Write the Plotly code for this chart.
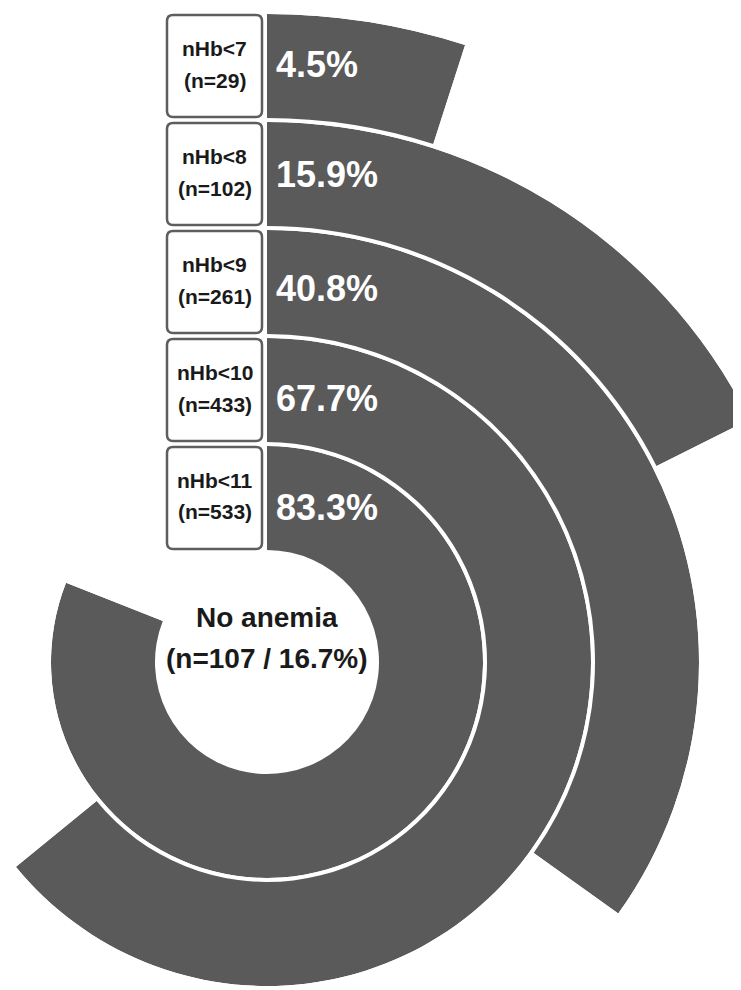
import math
import plotly.graph_objects as go

# ---- data ----
labels = ["nHb<7", "nHb<8", "nHb<9", "nHb<10", "nHb<11"]
counts = [29, 102, 261, 433, 533]
pct = [4.5, 15.9, 40.8, 67.7, 83.3]
# angular extent of each arc as drawn in the reference (degrees clockwise from 12 o'clock)
arc_deg = [17.8, 63.3, 125.6, 230.8, 291.5]
center_title = "No anemia"
center_n = 107
center_pct = 16.7

# ---- layout / style ----
W, H = 750, 990
CX, CY = 259, 654          # page body adds an 8px offset
HOLE_R = 112
RING_W = 104
GAP = 4
RING_COLOR = "#5a5a5a"
TEXT_DARK = "#1a1a1a"
BOX_LINE = "#5e5e5e"
FONT = "Liberation Sans, Arial, Helvetica, sans-serif"
pct_label_dy = [-2, 1, 6, 8, 9]


def px(x):
    return x / W


def py(y):
    return 1 - y / H


def sector_bbox(s0, s1):
    # same bounding-box rule plotly.js uses for a polar sector
    arc = s1 - s0
    a0 = s0 % 360
    a1 = a0 + arc
    ax, ay = math.cos(math.radians(a0)), math.sin(math.radians(a0))
    bx, by = math.cos(math.radians(a1)), math.sin(math.radians(a1))
    if (a0 <= 90 and a1 >= 90) or (a0 > 90 and a1 >= 450):
        y1 = 1
    elif ay <= 0 and by <= 0:
        y1 = 0
    else:
        y1 = max(ay, by)
    if (a0 <= 180 and a1 >= 180) or (a0 > 180 and a1 >= 540):
        x0 = -1
    elif ax >= 0 and bx >= 0:
        x0 = 0
    else:
        x0 = min(ax, bx)
    if (a0 <= 270 and a1 >= 270) or (a0 > 270 and a1 >= 630):
        y0 = -1
    elif ay >= 0 and by >= 0:
        y0 = 0
    else:
        y0 = min(ay, by)
    if a1 >= 360:
        x1 = 1
    elif ax <= 0 and bx <= 0:
        x1 = 0
    else:
        x1 = max(ax, bx)
    return x0, y0, x1, y1


def clamp(v):
    return min(1.0, max(0.0, v))


fig = go.Figure()
n = len(labels)
annotations = []
shapes = []
polars = {}

for i in range(n):
    inner = HOLE_R + (n - 1 - i) * (RING_W + GAP)
    outer = inner + RING_W
    sub = "polar" if i == 0 else f"polar{i + 1}"
    fig.add_trace(go.Barpolar(
        r=[RING_W], base=[inner],
        theta=[arc_deg[i] / 2], width=[arc_deg[i]],
        marker=dict(color=RING_COLOR, line=dict(width=0)),
        subplot=sub, hoverinfo="skip", showlegend=False,
    ))
    s0 = 90 - arc_deg[i]
    bx0, by0, bx1, by1 = sector_bbox(s0, 90)
    polars[sub] = dict(
        domain=dict(x=[clamp(px(CX + outer * bx0)), clamp(px(CX + outer * bx1))],
                    y=[clamp(py(CY - outer * by0)), clamp(py(CY - outer * by1))]),
        sector=[s0, 90], hole=0, bgcolor="rgba(0,0,0,0)",
        radialaxis=dict(range=[0, outer], visible=False),
        angularaxis=dict(rotation=90, direction="clockwise", visible=False),
    )

    top = CY - outer
    bot = CY - inner
    mid = (top + bot) / 2
    # percentage label on the ring
    annotations.append(dict(
        x=px(CX + 7), y=py(mid + pct_label_dy[i]), xref="paper", yref="paper",
        xanchor="left", yanchor="middle", showarrow=False,
        text=f"{pct[i]}%", font=dict(family=FONT, size=36, color="white", weight="bold"),
    ))
    # rounded box with category label
    x0b, x1b = CX - 100, CX - 5
    y0b, y1b = top + 1, bot - 1
    rr = 6
    pts = (f"M {px(x0b + rr)},{py(y0b)} L {px(x1b - rr)},{py(y0b)} "
           f"Q {px(x1b)},{py(y0b)} {px(x1b)},{py(y0b + rr)} "
           f"L {px(x1b)},{py(y1b - rr)} Q {px(x1b)},{py(y1b)} {px(x1b - rr)},{py(y1b)} "
           f"L {px(x0b + rr)},{py(y1b)} Q {px(x0b)},{py(y1b)} {px(x0b)},{py(y1b - rr)} "
           f"L {px(x0b)},{py(y0b + rr)} Q {px(x0b)},{py(y0b)} {px(x0b + rr)},{py(y0b)} Z")
    shapes.append(dict(type="path", path=pts, xref="paper", yref="paper",
                       fillcolor="white", line=dict(color=BOX_LINE, width=2.5), layer="above"))
    bc = (y0b + y1b) / 2
    xc = (x0b + x1b) / 2
    annotations.append(dict(
        x=px(xc), y=py(bc - 17.5), xref="paper", yref="paper",
        xanchor="center", yanchor="middle", showarrow=False,
        text=labels[i].replace("<", "&lt;"),
        font=dict(family=FONT, size=21, color=TEXT_DARK, weight="bold"),
    ))
    annotations.append(dict(
        x=px(xc), y=py(bc + 14), xref="paper", yref="paper",
        xanchor="center", yanchor="middle", showarrow=False,
        text=f"(n={counts[i]})",
        font=dict(family=FONT, size=21, color=TEXT_DARK, weight="bold"),
    ))

# centre label
annotations.append(dict(
    x=px(CX), y=py(CY - 45), xref="paper", yref="paper", xanchor="center", yanchor="middle",
    showarrow=False, text=center_title,
    font=dict(family=FONT, size=28, color=TEXT_DARK, weight="bold"),
))
annotations.append(dict(
    x=px(CX), y=py(CY - 4), xref="paper", yref="paper", xanchor="center", yanchor="middle",
    showarrow=False, text=f"(n={center_n} / {center_pct}%)",
    font=dict(family=FONT, size=28, color=TEXT_DARK, weight="bold"),
))

fig.update_layout(
    width=W, height=H,
    margin=dict(l=0, r=0, t=0, b=0, pad=0),
    paper_bgcolor="white", plot_bgcolor="white",
    showlegend=False,
    annotations=annotations, shapes=shapes,
    **polars,
)

fig.write_html("out.html", config={"displayModeBar": False})
